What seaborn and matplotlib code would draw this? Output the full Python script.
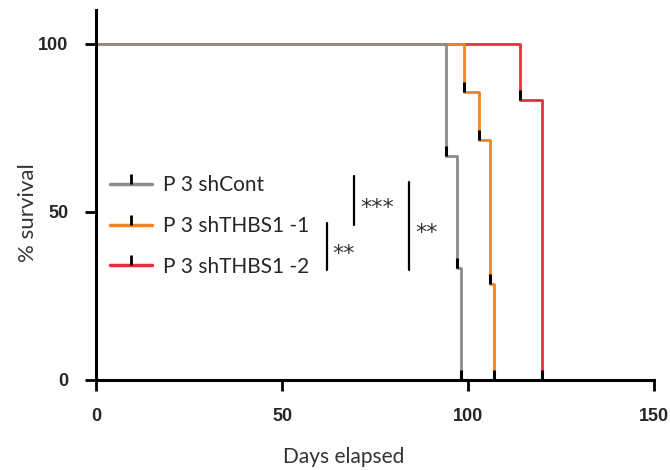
import matplotlib
matplotlib.use("Agg")
import matplotlib.pyplot as plt
from matplotlib.lines import Line2D
import pandas as pd
import seaborn as sns

# Kaplan-Meier survival data (days, % survival after each event)
groups = ["P 3 shCont", "P 3 shTHBS1 -1", "P 3 shTHBS1 -2"]
cont_days = [0, 94, 97, 98]
cont_surv = [100, 66.7, 33.3, 0]
thbs1_1_days = [0, 99, 103, 106, 107]
thbs1_1_surv = [100, 85.7, 71.4, 28.6, 0]
thbs1_2_days = [0, 114, 120]
thbs1_2_surv = [100, 83.3, 0]
colors = ["#8c8c8c", "#f5821f", "#ef2b3c"]

# significance brackets: (x, y_bottom, y_top, label)
sig_x = [62.0, 69.4, 84.1]
sig_lo = [32.7, 46.2, 32.7]
sig_hi = [46.7, 60.6, 59.0]
sig_labels = ["**", "***", "**"]

frames = []
for g, d, s in zip(groups,
                   [cont_days, thbs1_1_days, thbs1_2_days],
                   [cont_surv, thbs1_1_surv, thbs1_2_surv]):
    frames.append(pd.DataFrame({"day": d, "surv": s, "group": g}))
df = pd.concat(frames, ignore_index=True)

sns.set_style("ticks")
plt.rcParams["font.family"] = ["Lato", "DejaVu Sans"]

fig = plt.figure(figsize=(6.7, 4.7), dpi=100)
ax = fig.add_axes([0.1433, 0.1915, 0.8328, 0.787])

# draw red first, grey last so grey sits on top along the 100% line
for g, c in reversed(list(zip(groups, colors))):
    sub = df[df["group"] == g]
    sns.lineplot(data=sub, x="day", y="surv", color=c, ax=ax,
                 estimator=None, sort=False, drawstyle="steps-post",
                 linewidth=2.0, marker=2, markersize=7, markeredgewidth=2.2,
                 markeredgecolor="black", markevery=slice(1, None),
                 legend=False)

for x, lo, hi, lab in zip(sig_x, sig_lo, sig_hi, sig_labels):
    ax.plot([x, x], [lo, hi], color="black", linewidth=1.6)
    ax.text(x + 1.6, (lo + hi) / 2 - 3.9, lab, ha="left", va="baseline",
            fontsize=16, family=["DejaVu Sans"], color="#333333")

ax.set_xlim(0, 150)
ax.set_ylim(0, 110)
ax.set_xticks([0, 50, 100, 150])
ax.set_yticks([0, 50, 100])
ax.set_xticklabels(["0", "50", "100", "150"], fontweight="bold",
                   family=["Liberation Sans"], fontsize=13)
ax.set_yticklabels(["0", "50", "100"], fontweight="bold",
                   family=["Liberation Sans"], fontsize=13)
ax.tick_params(axis="both", direction="out", length=8, width=2,
               color="black", pad=12)
for side in ["left", "bottom"]:
    ax.spines[side].set_linewidth(2.2)
    ax.spines[side].set_color("black")
sns.despine(ax=ax)

ax.set_xlabel("Days elapsed", fontsize=15, color="#333333")
ax.xaxis.set_label_coords(0.443, -0.18)
ax.set_ylabel("% survival", fontsize=16, color="#333333")
ax.yaxis.set_label_coords(-0.104, 0.452)

handles = [Line2D([], [], color=c, linewidth=2.5, marker=2, markersize=7,
                  markeredgewidth=2, markeredgecolor="black")
           for c in colors]
ax.legend(handles, groups, loc="center left", bbox_to_anchor=(0.025, 0.4167),
          frameon=False, fontsize=15, handlelength=2.0, handletextpad=0.55,
          labelspacing=1.0, numpoints=1, borderpad=0, borderaxespad=0)

fig.savefig("out.png", dpi=100)
